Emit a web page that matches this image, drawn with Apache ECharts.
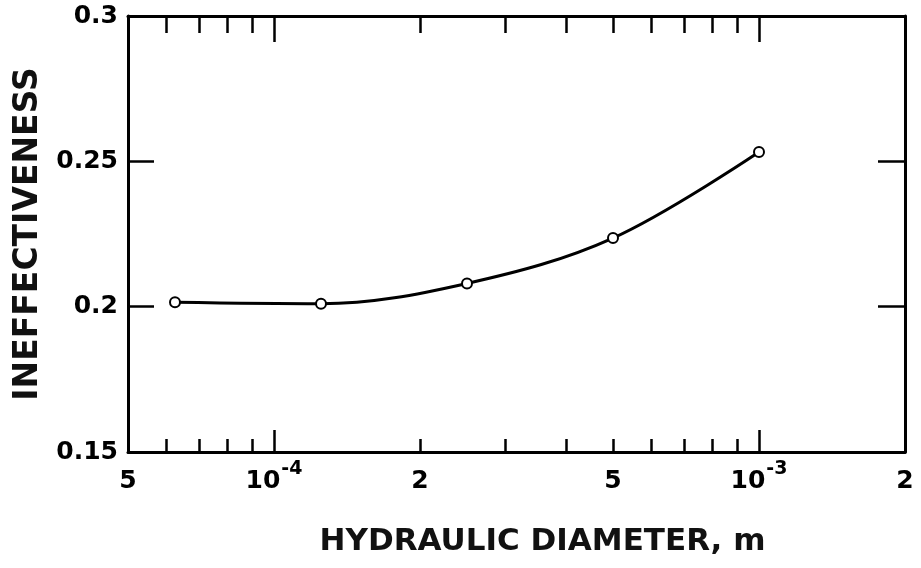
<!DOCTYPE html>
<html>
<head>
<meta charset="utf-8">
<script src="https://cdn.jsdelivr.net/npm/echarts@6/dist/echarts.min.js"></script>
<style>html,body{margin:0;padding:0;background:#fff}#c{width:921px;height:568px}</style>
</head>
<body>
<div id="c"></div>
<script>
// ---- data ----
var diameter = [6.25e-5, 1.25e-4, 2.5e-4, 5e-4, 1e-3];
var ineffectiveness = [0.2015, 0.201, 0.208, 0.2236, 0.2532];
var xLabelValues = [5e-5, 1e-4, 2e-4, 5e-4, 1e-3, 2e-3];
var xLabelTexts = ['{p|5}', '{b|10}{s|-4}', '{p|2}', '{p|5}', '{b|10}{s|-3}', '{p|2}'];
var xMinorTicks = [6e-5, 7e-5, 8e-5, 9e-5, 2e-4, 3e-4, 4e-4, 5e-4, 6e-4, 7e-4, 8e-4, 9e-4];
var xMajorTicks = [1e-4, 1e-3];
var yTicks = [0.15, 0.2, 0.25, 0.3];

var FONT = 'DejaVu Sans';
var points = diameter.map(function (d, i) { return [d, ineffectiveness[i]]; });

function labelFor(v) {
  var best = 0, bd = Infinity;
  for (var i = 0; i < xLabelValues.length; i++) {
    var d = Math.abs(Math.log(v) - Math.log(xLabelValues[i]));
    if (d < bd) { bd = d; best = i; }
  }
  return xLabelTexts[best];
}

function xAx(opts) {
  var base = {
    type: 'log', logBase: 10, min: 5e-5, max: 2e-3,
    gridIndex: 0,
    axisLine: { show: false },
    axisTick: { show: false },
    axisLabel: { show: false },
    splitLine: { show: false },
    minorTick: { show: false },
    minorSplitLine: { show: false }
  };
  for (var k in opts) base[k] = opts[k];
  return base;
}

var option = {
  backgroundColor: '#fff',
  animation: false,
  grid: { left: 128, right: 16, top: 16, bottom: 116, containLabel: false },
  xAxis: [
    xAx({
      position: 'bottom',
      axisLine: { show: true, onZero: false, lineStyle: { color: '#000', width: 3 } },
      axisTick: { show: true, inside: true, length: 13, customValues: xMinorTicks, lineStyle: { color: '#000', width: 2.5 } },
      axisLabel: {
        show: true, customValues: xLabelValues, margin: 10,
        fontFamily: FONT, fontWeight: 'bold', fontSize: 25, color: '#000',
        formatter: function (v) { return labelFor(v); },
        rich: {
          p: { fontFamily: FONT, fontWeight: 'bold', fontSize: 25, color: '#000', lineHeight: 26, padding: [12, 0, 0, 0] },
          b: { fontFamily: FONT, fontWeight: 'bold', fontSize: 25, color: '#000', lineHeight: 26, padding: [12, 0, 0, 0] },
          s: { fontFamily: FONT, fontWeight: 'bold', fontSize: 19, color: '#000', lineHeight: 26, padding: [0, 0, 12, 1] }
        }
      },
      name: 'HYDRAULIC DIAMETER, m',
      nameLocation: 'middle',
      nameGap: 74,
      nameTextStyle: { fontFamily: FONT, fontWeight: 'bold', fontSize: 31, color: '#111', padding: [0, 0, 0, 52] }
    }),
    xAx({
      position: 'bottom',
      axisTick: { show: true, inside: true, length: 22, customValues: xMajorTicks, lineStyle: { color: '#000', width: 2.5 } }
    }),
    xAx({
      position: 'top',
      axisLine: { show: true, onZero: false, lineStyle: { color: '#000', width: 3 } },
      axisTick: { show: true, inside: true, length: 17, customValues: xMinorTicks, lineStyle: { color: '#000', width: 2.5 } }
    }),
    xAx({
      position: 'top',
      axisTick: { show: true, inside: true, length: 26, customValues: xMajorTicks, lineStyle: { color: '#000', width: 2.5 } }
    })
  ],
  yAxis: [
    {
      type: 'value', min: 0.15, max: 0.3, interval: 0.05, position: 'left',
      axisLine: { show: true, onZero: false, lineStyle: { color: '#000', width: 3 } },
      axisTick: { show: true, inside: true, length: 26, lineStyle: { color: '#000', width: 2.5 } },
      axisLabel: {
        show: true, margin: 10, fontFamily: FONT, fontWeight: 'bold', fontSize: 25, color: '#000',
        formatter: function (v) { return String(+v.toFixed(2)); }
      },
      splitLine: { show: false },
      name: 'INEFFECTIVENESS',
      nameLocation: 'middle',
      nameGap: 78,
      nameRotate: 90,
      nameTextStyle: { fontFamily: FONT, fontWeight: 'bold', fontSize: 33, color: '#111' }
    },
    {
      type: 'value', min: 0.15, max: 0.3, interval: 0.05, position: 'right',
      axisLine: { show: true, onZero: false, lineStyle: { color: '#000', width: 3 } },
      axisTick: { show: true, inside: true, length: 27, lineStyle: { color: '#000', width: 2.5 } },
      axisLabel: { show: false },
      splitLine: { show: false }
    }
  ],
  series: [
    {
      type: 'line',
      xAxisIndex: 0, yAxisIndex: 0,
      data: points,
      smooth: 0.35,
      symbol: 'circle',
      symbolSize: 10,
      lineStyle: { color: '#000', width: 3 },
      itemStyle: { color: '#fff', borderColor: '#000', borderWidth: 2 },
      z: 5
    }
  ]
};

var chart = echarts.init(document.getElementById('c'), null, { renderer: 'canvas' });
chart.setOption(option);
</script>
</body>
</html>
